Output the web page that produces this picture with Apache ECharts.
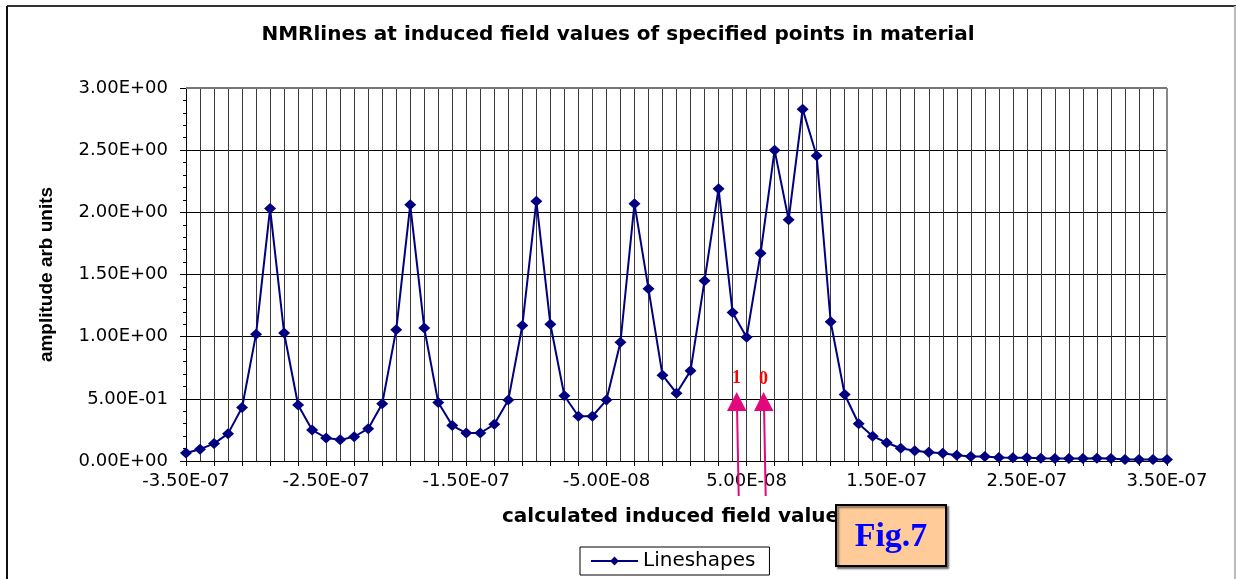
<!DOCTYPE html>
<html>
<head>
<meta charset="utf-8">
<title>NMRlines</title>
<script src="https://cdn.jsdelivr.net/npm/echarts@6/dist/echarts.min.js"></script>
<style>
  html, body { margin: 0; padding: 0; background: #fff; }
  #chart { width: 1236px; height: 579px; }
</style>
</head>
<body>
<div id="chart"></div>
<script>
// induced field values (x), one point every 1E-08
var fieldValues = [
  -3.5e-7, -3.4e-7, -3.3e-7, -3.2e-7, -3.1e-7, -3.0e-7, -2.9e-7, -2.8e-7, -2.7e-7, -2.6e-7,
  -2.5e-7, -2.4e-7, -2.3e-7, -2.2e-7, -2.1e-7, -2.0e-7, -1.9e-7, -1.8e-7, -1.7e-7, -1.6e-7,
  -1.5e-7, -1.4e-7, -1.3e-7, -1.2e-7, -1.1e-7, -1.0e-7, -9.0e-8, -8.0e-8, -7.0e-8, -6.0e-8,
  -5.0e-8, -4.0e-8, -3.0e-8, -2.0e-8, -1.0e-8, 0, 1.0e-8, 2.0e-8, 3.0e-8, 4.0e-8,
  5.0e-8, 6.0e-8, 7.0e-8, 8.0e-8, 9.0e-8, 1.0e-7, 1.1e-7, 1.2e-7, 1.3e-7, 1.4e-7,
  1.5e-7, 1.6e-7, 1.7e-7, 1.8e-7, 1.9e-7, 2.0e-7, 2.1e-7, 2.2e-7, 2.3e-7, 2.4e-7,
  2.5e-7, 2.6e-7, 2.7e-7, 2.8e-7, 2.9e-7, 3.0e-7, 3.1e-7, 3.2e-7, 3.3e-7, 3.4e-7,
  3.5e-7
];

// amplitude (arb units)
var lineshapes = [
  0.065, 0.095, 0.14, 0.22, 0.43, 1.02, 2.03, 1.03, 0.45, 0.25,
  0.185, 0.17, 0.195, 0.26, 0.46, 1.055, 2.06, 1.07, 0.47, 0.285,
  0.225, 0.225, 0.295, 0.49, 1.09, 2.09, 1.10, 0.525, 0.36, 0.36,
  0.49, 0.955, 2.07, 1.385, 0.69, 0.545, 0.725, 1.45, 2.19, 1.195,
  0.995, 1.67, 2.50, 1.94, 2.83, 2.455, 1.12, 0.535, 0.30, 0.20,
  0.147, 0.103, 0.083, 0.07, 0.062, 0.047, 0.037, 0.036, 0.028, 0.027,
  0.027, 0.022, 0.021, 0.021, 0.021, 0.022, 0.021, 0.013, 0.013, 0.013,
  0.012
];

var chartTitle = 'NMRlines at induced field values of specified points in material';
var xName = 'calculated induced field values';
var yName = 'amplitude arb units';
var seriesName = 'Lineshapes';
var arrowLabels = ['1', '0'];

// Excel style 0.00E+00
function sci(v) {
  v = Number(v);
  if (Math.abs(v) < 1e-15) return '0.00E+00';
  var s = v.toExponential(2).toUpperCase();
  return s.replace(/E([+-])(\d)$/, 'E$10$2');
}

var chart = echarts.init(document.getElementById('chart'));
var pink = '#E4087C';

chart.setOption({
  backgroundColor: '#fff',
  animation: false,
  title: {
    text: chartTitle,
    left: 'center',
    top: 20,
    textStyle: { fontFamily: 'DejaVu Sans', fontWeight: 'bold', fontSize: 20, color: '#000' }
  },
  legend: {
    data: [seriesName],
    left: 580,
    top: 547,
    padding: [4, 14, 4, 10],
    borderColor: '#000',
    borderWidth: 1,
    itemWidth: 47,
    itemHeight: 11,
    itemGap: 6,
    textStyle: { fontFamily: 'DejaVu Sans', fontSize: 20, color: '#000' }
  },
  grid: {
    left: 186,
    right: 69,
    top: 88,
    bottom: 118,
    containLabel: false,
    outerBoundsMode: 'none'
  },
  xAxis: {
    type: 'category',
    data: fieldValues,
    boundaryGap: false,
    name: xName,
    nameLocation: 'middle',
    nameGap: 46,
    nameTextStyle: { fontFamily: 'DejaVu Sans', fontWeight: 'bold', fontSize: 20, color: '#000' },
    axisLine: { lineStyle: { color: '#000', width: 1 } },
    axisTick: { interval: 1, length: 5, lineStyle: { color: '#000' } },
    axisLabel: {
      interval: 9,
      margin: 11,
      fontFamily: 'DejaVu Sans',
      fontSize: 18,
      color: '#000',
      formatter: function (v) { return sci(v); }
    },
    splitLine: { show: true, interval: 0, lineStyle: { color: '#3a3a3a', width: 1 } }
  },
  yAxis: {
    type: 'value',
    min: 0,
    max: 3,
    interval: 0.5,
    name: yName,
    nameLocation: 'middle',
    nameGap: 130,
    nameRotate: 90,
    nameTextStyle: { fontFamily: 'Liberation Sans', fontWeight: 'bold', fontSize: 19, color: '#000' },
    axisLine: { show: true, lineStyle: { color: '#000', width: 1 } },
    axisTick: { show: true, length: 6, lineStyle: { color: '#000' } },
    minorTick: { show: true, splitNumber: 5, length: 3, lineStyle: { color: '#000' } },
    axisLabel: {
      margin: 18,
      fontFamily: 'DejaVu Sans',
      fontSize: 18,
      color: '#000',
      formatter: function (v) { return sci(v); }
    },
    splitLine: { show: true, lineStyle: { color: '#000', width: 1 } }
  },
  series: [{
    name: seriesName,
    type: 'line',
    data: lineshapes,
    symbol: 'diamond',
    symbolSize: [12, 11],
    showAllSymbol: true,
    color: '#000080',
    lineStyle: { color: '#000080', width: 2 },
    itemStyle: { color: '#000080' }
  }],
  graphic: [
    // outer frame of the picture
    { type: 'line', shape: { x1: 7, y1: 6, x2: 1236, y2: 6 }, style: { stroke: '#333', lineWidth: 2 } },
    { type: 'line', shape: { x1: 7, y1: 6, x2: 7, y2: 579 }, style: { stroke: '#111', lineWidth: 2 } },
    { type: 'line', shape: { x1: 1235, y1: 6, x2: 1235, y2: 579 }, style: { stroke: '#bbb', lineWidth: 2 } },
    // plot frame top/right (grey)
    { type: 'line', shape: { x1: 186, y1: 88, x2: 1167, y2: 88 }, style: { stroke: '#777', lineWidth: 2 }, z: 1 },
    { type: 'line', shape: { x1: 1167, y1: 88, x2: 1167, y2: 461 }, style: { stroke: '#888', lineWidth: 2 }, z: 1 },
    // pink arrows
    { type: 'line', shape: { x1: 737, y1: 405, x2: 738.7, y2: 496 }, style: { stroke: pink, lineWidth: 2 }, z: 20 },
    { type: 'polygon', shape: { points: [[736.7, 392], [727, 411], [746.5, 411]] }, style: { fill: pink }, z: 20 },
    { type: 'line', shape: { x1: 764, y1: 405, x2: 765.7, y2: 496 }, style: { stroke: pink, lineWidth: 2 }, z: 20 },
    { type: 'polygon', shape: { points: [[763.5, 392], [754, 411], [773.5, 411]] }, style: { fill: pink }, z: 20 },
    { type: 'text', x: 736.5, y: 378, style: { text: arrowLabels[0], fill: '#ff0000', font: 'bold 18px "Liberation Serif"', textAlign: 'center', textVerticalAlign: 'middle' }, z: 20 },
    { type: 'text', x: 763.5, y: 379, style: { text: arrowLabels[1], fill: '#ff0000', font: 'bold 18px "Liberation Serif"', textAlign: 'center', textVerticalAlign: 'middle' }, z: 20 },
    // Fig.7 box
    {
      type: 'rect',
      shape: { x: 836, y: 505, width: 110, height: 61 },
      style: { fill: '#FFCC99', stroke: '#000', lineWidth: 2, shadowBlur: 2, shadowOffsetX: 2, shadowOffsetY: 2, shadowColor: 'rgba(0,0,0,0.5)' },
      z: 30
    },
    { type: 'text', x: 891, y: 537, style: { text: 'Fig.7', fill: '#0000ff', font: 'bold 34px "Liberation Serif"', textAlign: 'center', textVerticalAlign: 'middle' }, z: 31 }
  ]
});
</script>
</body>
</html>
